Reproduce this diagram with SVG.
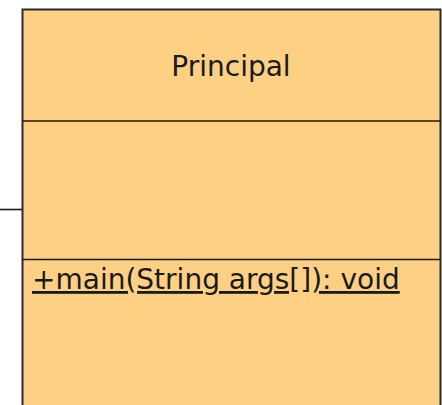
<svg xmlns="http://www.w3.org/2000/svg" width="442" height="405" viewBox="0 0 442 405">
  <style>
    .box { fill: #FED084; stroke: #2b2b2b; stroke-width: 2; }
    .sep { stroke: #1a1a1a; stroke-width: 1.6; }
    .lbl { font-family: "DejaVu Sans", sans-serif; font-size: 28px; fill: #1a1a1a; }
    .conn { stroke: #1a1a1a; stroke-width: 1.6; fill: none; }
  </style>
  <g id="connectors">
    <line class="conn" x1="0" y1="209.5" x2="22.5" y2="209.5"/>
  </g>
  <g id="Principal">
    <rect class="box" x="22.5" y="9.5" width="418" height="420"/>
    <line class="sep" x1="22.5" y1="121" x2="440.5" y2="121"/>
    <line class="sep" x1="22.5" y1="259.5" x2="440.5" y2="259.5"/>
    <text class="lbl" x="231" y="76" text-anchor="middle">Principal</text>
    <text class="lbl" x="32" y="289" text-decoration="underline">+main(String args[]): void</text>
  </g>
</svg>
